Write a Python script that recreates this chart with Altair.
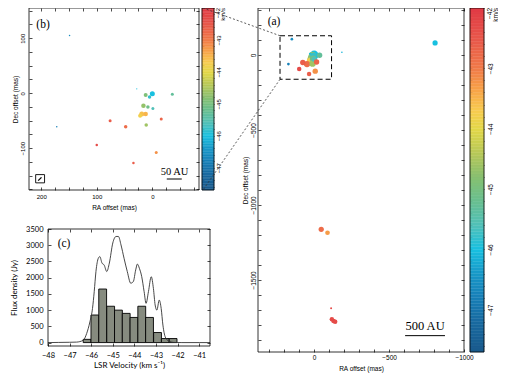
import altair as alt
import numpy as np
import pandas as pd

# ---------------- data ----------------
# maser spots: RA offset (mas), Dec offset (mas), LSR velocity (km/s), marker diameter (panel b px)
ra = [149, 28, 12, 0, 5, -36, 16, 8, -1, 19, 12, 22, -16, 76, 48, 11, 172, 100, -7, 34,
      -807, -185, -47, -89, -113, -118, -129, -140]
dec = [105, 8, -3, -1, -7, -2, -23, -25, -28, -38, -38, -41, -47, -50, -61, -58, -61, -94, -108, -127,
       80, 18, -1162, -1185, -1689, -1762, -1773, -1778]
vel = [-46.6, -46.0, -44.9, -46.0, -45.8, -45.3, -44.7, -45.1, -45.6, -43.6, -43.5, -43.8, -42.7, -42.6,
       -42.8, -44.6, -46.8, -42.3, -43.2, -42.6,
       -46.0, -46.1, -42.8, -43.3, -42.3, -42.3, -42.3, -42.3]
dia = [1.5, 1.2, 4.0, 5.0, 3.5, 3.0, 4.5, 3.5, 3.0, 5.0, 4.5, 4.0, 3.0, 3.0, 3.5, 3.5, 1.5, 2.5, 3.0, 2.5,
       2.9, 0.9, 2.9, 2.6, 1.1, 2.5, 2.5, 2.5]

# spectrum (panel c)
spec_v = [-48.0, -47.5, -47.0, -46.68, -46.37, -46.21, -46.06, -45.94, -45.86, -45.78, -45.67, -45.6,
          -45.5, -45.4, -45.28, -45.16, -45.0, -44.85, -44.74, -44.62, -44.48, -44.33, -44.17, -44.05,
          -43.94, -43.86, -43.77, -43.66, -43.55, -43.46, -43.35, -43.22, -43.12, -43.04, -42.96, -42.85,
          -42.76, -42.68, -42.57, -42.42, -42.19, -41.8, -41.0, -40.5]
spec_f = [0, 5, 10, 15, 70, 280, 640, 1050, 1570, 2190, 2600, 2650, 2450, 2390, 2190, 2450, 3070, 3270,
          3270, 3010, 2600, 2190, 1830, 1880, 2240, 2420, 2290, 2030, 1570, 1210, 1570, 2030, 1670, 1160,
          1000, 1310, 1050, 540, 170, 50, 5, 0, 0, 0]
hist_lo = [-46.37, -46.01, -45.65, -45.28, -44.92, -44.56, -44.20, -43.84, -43.48, -43.11, -42.75, -42.39]
hist_f = [100, 850, 1650, 1120, 1000, 900, 775, 1120, 775, 310, 125, 125]
HIST_W = 0.362

# colour map stops
cmap_v = [-47.7, -47.2, -46.8, -46.4, -46.0, -45.6, -45.2, -44.8, -44.4, -44.0, -43.7, -43.4, -43.0, -42.5, -42.0]
cmap_c = ["#1a5a8c", "#186aa0", "#1880b8", "#1898c8", "#18c0e0", "#50c0b8", "#68bf90", "#88c070",
          "#b8c858", "#e4d848", "#f8cc50", "#f8a848", "#f07a48", "#e8564a", "#e03a45"]

SANS = "Liberation Sans"
SERIF = "Liberation Serif"
CSANS = "Lato"
W, H = 490, 366  # canvas (page minus 8px margins)

spots = pd.DataFrame({"ra": ra, "dec": dec, "vel": vel, "dia": dia})
cscale = alt.Scale(domain=cmap_v, range=cmap_c, interpolate="rgb")


def ax(**kw):
    base = dict(domain=False, grid=False, tickSize=3, tickColor="black", tickWidth=0.7,
                labelFont=SANS, labelFontSize=6, labelColor="black", labelOverlap=False, labelFlush=False,
                titleFont=SANS, titleFontSize=6.5, titleFontWeight="normal", titleColor="black")
    base.update(kw)
    return alt.Axis(**base)


def frame_layers(xs, ys, xd, yd, xt, yt, top, right, ts=3):
    """top/right tick axes plus a rectangular frame around a panel"""
    d = pd.DataFrame({"x0": [xd[0]], "x1": [xd[1]], "y0": [yd[0]], "y1": [yd[1]]})
    ticks = alt.Chart(d).mark_point(opacity=0).encode(
        x=alt.X("x0:Q", scale=xs, axis=ax(orient="top", values=xt, labels=False, title=None,
                                          offset=-(top + ts), tickSize=ts)),
        y=alt.Y("y0:Q", scale=ys, axis=ax(orient="right", values=yt, labels=False, title=None,
                                          offset=right - ts - W, tickSize=ts)))
    rect = alt.Chart(d).mark_rect(fillOpacity=0, stroke="black", strokeWidth=0.8).encode(
        x=alt.X("x0:Q", scale=xs, axis=None), x2="x1:Q",
        y=alt.Y("y0:Q", scale=ys, axis=None), y2="y1:Q")
    return [ticks, rect]


def ptext(txt, px, py, **mk):
    return alt.Chart(pd.DataFrame({"t": [txt]})).mark_text(**mk).encode(
        x=alt.value(px), y=alt.value(py), text="t:N")


lab100 = "datum.value % 100 === 0 ? format(datum.value, 'd') : ''"
lab500 = "datum.value % 500 === 0 ? format(datum.value, 'd') : ''"

# ---------------- panel (b) ----------------
bL, bR, bT, bB = 21, 191, 0, 182
b_xd, b_yd = [-84, 222], [-176, 155]
xb = alt.Scale(domain=b_xd, range=[bR, bL], nice=False, zero=False)
yb = alt.Scale(domain=b_yd, range=[bB, bT], nice=False, zero=False)
b_xt = list(range(-75, 201, 25))
b_yt = list(range(-175, 151, 25))

pts_b = alt.Chart(spots).transform_filter(
    "datum.ra < 222 && datum.ra > -84 && datum.dec < 155 && datum.dec > -176"
).transform_calculate(sz="datum.dia*datum.dia").mark_circle(opacity=1).encode(
    x=alt.X("ra:Q", scale=xb, axis=ax(orient="bottom", values=b_xt, labelExpr=lab100, labelPadding=3,
                                      offset=bB - 3 - H, title="RA offset (mas)", titlePadding=5)),
    y=alt.Y("dec:Q", scale=yb, axis=ax(orient="left", values=b_yt, labelExpr=lab100, labelAngle=270,
                                       labelAlign="center", labelBaseline="middle", labelPadding=7,
                                       offset=-(bL + 3), title="Dec offset (mas)", titlePadding=1)),
    color=alt.Color("vel:Q", scale=cscale, legend=None),
    size=alt.Size("sz:Q", scale=None, legend=None),
    order=alt.Order("dia:Q", sort="descending"),
)
sb_b = pd.DataFrame({"r1": [-26], "r2": [-53], "d": [-156], "rt": [-40], "dt": [-143], "t": ["50 AU"]})
bar_b = alt.Chart(sb_b).mark_rule(color="black", strokeWidth=1).encode(
    x=alt.X("r1:Q", scale=xb, axis=None), x2="r2:Q", y=alt.Y("d:Q", scale=yb, axis=None))
txt_b = alt.Chart(sb_b).mark_text(font=SERIF, fontSize=10.5, baseline="middle").encode(
    x=alt.X("rt:Q", scale=xb, axis=None), y=alt.Y("dt:Q", scale=yb, axis=None), text="t:N")
beam = pd.DataFrame({"r1": [210], "r2": [194], "d1": [-148], "d2": [-163],
                     "e1": [205.5], "e2": [199.5], "f1": [-159], "f2": [-153]})
beam_box = alt.Chart(beam).mark_rect(fillOpacity=0, stroke="black", strokeWidth=0.9).encode(
    x=alt.X("r1:Q", scale=xb, axis=None), x2="r2:Q", y=alt.Y("d1:Q", scale=yb, axis=None), y2="d2:Q")
beam_ell = alt.Chart(beam).mark_rule(color="black", strokeWidth=1.3).encode(
    x=alt.X("e1:Q", scale=xb, axis=None), x2="e2:Q", y=alt.Y("f1:Q", scale=yb, axis=None), y2="f2:Q")

layers = [pts_b] + frame_layers(xb, yb, b_xd, b_yd, b_xt, b_yt, bT, bR) + [
    bar_b, txt_b, beam_box, beam_ell, ptext("(b)", 35, 17, font=SERIF, fontSize=11.5)]

# ---------------- colour bars ----------------
cb_lo = np.round(np.arange(-47.7, -42.0, 0.05), 3)
cb_df = pd.DataFrame({"v0": cb_lo, "v1": np.round(cb_lo + 0.05, 3), "vm": np.round(cb_lo + 0.025, 3)})
cb_ticks = [round(-47.6 + 0.2 * i, 1) for i in range(29)]
cb_lab = "abs(datum.value - round(datum.value)) < 0.01 && datum.value < -42.5 ? format(datum.value, 'd') : ''"


def colorbar(x0, x1, top, bot, fs, lp, x42, xkms):
    ys = alt.Scale(domain=[-47.7, -42.0], range=[bot, top], nice=False, zero=False)
    bars = alt.Chart(cb_df).mark_rect(strokeWidth=0.4).encode(
        y=alt.Y("v0:Q", scale=ys, axis=ax(orient="right", values=cb_ticks, labelExpr=cb_lab, labelAngle=270,
                                          labelAlign="center", labelBaseline="middle", labelPadding=lp,
                                          labelFontSize=fs, title=None, tickSize=2, offset=x1 - 2 - W)),
        y2="v1:Q", x=alt.value(x0), x2=alt.value(x1),
        color=alt.Color("vm:Q", scale=cscale, legend=None),
        stroke=alt.Stroke("vm:Q", scale=cscale, legend=None))
    fr = pd.DataFrame({"v0": [-47.7], "v1": [-42.0]})
    left = alt.Chart(fr).mark_point(opacity=0).encode(
        y=alt.Y("v0:Q", scale=ys, axis=ax(orient="left", values=cb_ticks, labels=False, title=None,
                                          tickSize=2, offset=-(x0 + 2))))
    outline = alt.Chart(fr).mark_rect(fillOpacity=0, stroke="black", strokeWidth=0.8).encode(
        y=alt.Y("v0:Q", scale=ys, axis=None), y2="v1:Q", x=alt.value(x0), x2=alt.value(x1))
    t1 = ptext("\u221242", x42, top, angle=270, align="right", baseline="middle", font=SANS, fontSize=fs)
    t2 = ptext("km/s", xkms, top, angle=270, align="right", baseline="middle", font=SANS, fontSize=fs)
    return [bars, left, outline, t1, t2]


layers += colorbar(194, 206, bT, bB, 6, 4, 210, 214.5)

# ---------------- panel (a) ----------------
aL, aR, aT, aB = 250, 456, 0, 344
a_xd, a_yd = [-1000, 375], [-1980, 313]
xa = alt.Scale(domain=a_xd, range=[aR, aL], nice=False, zero=False)
ya = alt.Scale(domain=a_yd, range=[aB, aT], nice=False, zero=False)
a_xt = list(range(-1000, 301, 100))
a_yt = list(range(-1900, 301, 100))

box = pd.DataFrame({"r1": [228], "r2": [-116], "d1": [128], "d2": [-162]})
conn_top = alt.Chart(box).mark_rule(color="#333", strokeWidth=0.8, strokeDash=[2, 2]).encode(
    x=alt.X("r1:Q", scale=xa, axis=None), y=alt.Y("d1:Q", scale=ya, axis=None),
    x2=alt.value(195), y2=alt.value(bT))
conn_bot = alt.Chart(box).mark_rule(color="#333", strokeWidth=0.8, strokeDash=[2, 2]).encode(
    x=alt.X("r1:Q", scale=xa, axis=None), y=alt.Y("d2:Q", scale=ya, axis=None),
    x2=alt.value(195), y2=alt.value(bB))
pts_a = alt.Chart(spots).transform_calculate(sz="(datum.dia*1.8)*(datum.dia*1.8)").mark_circle(opacity=1).encode(
    x=alt.X("ra:Q", scale=xa, axis=ax(orient="bottom", values=a_xt, labelExpr=lab500, labelPadding=2,
                                      labelFontSize=6.5, offset=aB - 3 - H, title="RA offset (mas)", titlePadding=5)),
    y=alt.Y("dec:Q", scale=ya, axis=ax(orient="left", values=a_yt, labelExpr=lab500, labelAngle=270,
                                       labelAlign="center", labelBaseline="middle", labelPadding=5,
                                       labelFontSize=6.5, offset=-(aL + 3), title="Dec offset (mas)",
                                       titlePadding=1.5)),
    color=alt.Color("vel:Q", scale=cscale, legend=None),
    size=alt.Size("sz:Q", scale=None, legend=None),
    order=alt.Order("dia:Q", sort="descending"),
)
box_a = alt.Chart(box).mark_rect(fillOpacity=0, stroke="black", strokeWidth=1, strokeDash=[5, 3]).encode(
    x=alt.X("r1:Q", scale=xa, axis=None), x2="r2:Q", y=alt.Y("d1:Q", scale=ya, axis=None), y2="d2:Q")
sb_a = pd.DataFrame({"r1": [-607], "r2": [-873], "d": [-1871], "rt": [-740], "dt": [-1805], "t": ["500 AU"]})
bar_a = alt.Chart(sb_a).mark_rule(color="black", strokeWidth=1).encode(
    x=alt.X("r1:Q", scale=xa, axis=None), x2="r2:Q", y=alt.Y("d:Q", scale=ya, axis=None))
txt_a = alt.Chart(sb_a).mark_text(font=SERIF, fontSize=12.5, baseline="middle").encode(
    x=alt.X("rt:Q", scale=xa, axis=None), y=alt.Y("dt:Q", scale=ya, axis=None), text="t:N")

layers += [conn_top, conn_bot, pts_a] + frame_layers(xa, ya, a_xd, a_yd, a_xt, a_yt, aT, aR) + [
    box_a, bar_a, txt_a, ptext("(a)", 266, 14, font=SERIF, fontSize=11.5)]

layers += colorbar(462, 476, aT, aB, 6.5, 6, 482, 487.5)

# ---------------- panel (c) ----------------
cL, cR, cT, cB = 40, 202, 221, 338
c_xd, c_yd = [-48, -40.5], [-105, 3500]
xc = alt.Scale(domain=c_xd, range=[cL, cR], nice=False, zero=False)
yc = alt.Scale(domain=c_yd, range=[cB, cT], nice=False, zero=False)
c_xt = list(range(-48, -40))
c_yt = list(range(0, 3501, 500))
cax = dict(labelFont=CSANS, labelFontSize=7.5, titleFont=CSANS, titleFontSize=8)

hist = pd.DataFrame({"lo": hist_lo, "f": hist_f})
bars_c = alt.Chart(hist).transform_calculate(hi=f"datum.lo + {HIST_W}").mark_rect(
    fill="#868b7f", stroke="black", strokeWidth=0.9).encode(
    x=alt.X("lo:Q", scale=xc, axis=ax(orient="bottom", values=c_xt, format="d", labelPadding=5,
                                      offset=cB - 3 - H, title="LSR Velocity (km s\u207b\u00b9)",
                                      titlePadding=3, **cax)),
    x2="hi:Q",
    y=alt.Y("f:Q", scale=yc, axis=ax(orient="left", values=c_yt, format="d", labelPadding=5,
                                     offset=-(cL + 3), title="Flux density (Jy)", titlePadding=7, **cax)),
    y2=alt.datum(0))
spec = pd.DataFrame({"v": spec_v, "f": spec_f})
line_c = alt.Chart(spec).mark_line(color="#333", strokeWidth=0.9, interpolate="monotone").encode(
    x=alt.X("v:Q", scale=xc, axis=None), y=alt.Y("f:Q", scale=yc, axis=None))

layers += [bars_c, line_c] + frame_layers(xc, yc, c_xd, c_yd, c_xt, c_yt, cT, cR) + [
    ptext("(c)", 56, 236, font=SERIF, fontSize=11.5)]

chart = alt.layer(*layers).resolve_scale(x="independent", y="independent").resolve_axis(
    x="independent", y="independent").properties(
    width=W, height=H, autosize=alt.AutoSizeParams(type="none"), padding=0
).configure_view(strokeOpacity=0)

chart.save("out.html", embed_options={"renderer": "svg", "actions": False})
